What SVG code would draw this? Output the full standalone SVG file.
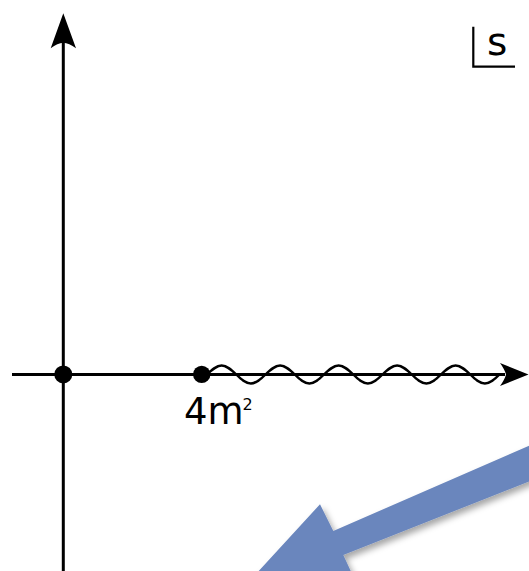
<svg xmlns="http://www.w3.org/2000/svg" width="529" height="571" viewBox="0 0 529 571">
<style>
.ax{stroke:#000;stroke-width:3;fill:none}
.head{fill:#000}
.lbl{font-family:"DejaVu Sans",sans-serif;fill:#000}
</style>
<defs>
<filter id="sh" x="-20%" y="-20%" width="140%" height="140%">
<feDropShadow dx="3" dy="4" stdDeviation="3" flood-color="#000" flood-opacity="0.35"/>
</filter>
</defs>
<rect width="529" height="571" fill="#fff"/>
<g id="connectors">
<line class="ax" x1="63.3" y1="571" x2="63.3" y2="40"/>
<path class="head" d="M63.3,13.3 L76,48.3 Q69,43 63.3,42.7 Q57.6,43 50.7,48.3 Z"/>
<line class="ax" x1="12" y1="374.5" x2="505" y2="374.5"/>
<path class="head" d="M528.5,374.5 L500,386 Q505,379 506,374.5 Q505,370 500,363 Z"/>
<path fill="none" stroke="#000" stroke-width="2.4" d="M207,374.5 c4.77,-4.61 9.33,-9 14.625,-9 s9.855,4.39 14.625,9 s9.335,9 14.625,9 s9.855,-4.39 14.625,-9 s9.335,-9 14.625,-9 s9.855,4.39 14.625,9 s9.335,9 14.625,9 s9.855,-4.39 14.625,-9 s9.335,-9 14.625,-9 s9.855,4.39 14.625,9 s9.335,9 14.625,9 s9.855,-4.39 14.625,-9 s9.335,-9 14.625,-9 s9.855,4.39 14.625,9 s9.335,9 14.625,9 s9.855,-4.39 14.625,-9 s9.335,-9 14.625,-9 s9.855,4.39 14.625,9 s9.335,9 14.625,9 s9.855,-4.39 14.625,-9"/>
</g>
<g id="origin"><circle cx="63.3" cy="374.4" r="9"/></g>
<g id="threshold">
<circle cx="201.7" cy="374.4" r="8.7"/>
<text class="lbl" x="184" y="424" font-size="37">4m</text>
<text class="lbl" x="242.5" y="409.5" font-size="16">2</text>
</g>
<g id="s-label">
<path d="M473.3,26.7 V66.7 H515" fill="none" stroke="#000" stroke-width="2.2"/>
<text class="lbl" x="487" y="54.5" font-size="39">s</text>
</g>
<g id="blue-arrow">
<path d="M560,432.2 L333.3,531 L320,504.3 L246.5,584.3 L355.8,582 L343.3,555 L560,469.2 Z" fill="#6a86bd" filter="url(#sh)"/>
</g>
</svg>
